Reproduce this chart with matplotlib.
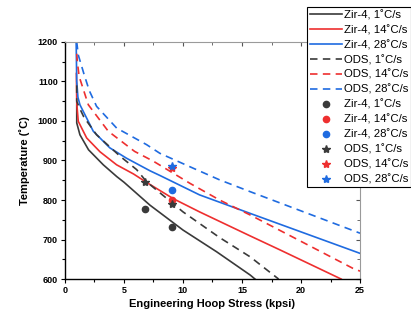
import matplotlib
matplotlib.use("Agg")
import matplotlib.pyplot as plt
from matplotlib.ticker import MultipleLocator

# --- data ---

zir1_s = [1.0, 1.0, 1.27, 2.0, 3.25, 4.4, 5.0, 7.2, 10.0, 12.85, 15.7, 16.1]
zir1_t = [1040, 995, 965, 927, 889, 859, 845, 787, 724, 669, 610, 600]

zir14_s = [0.97, 1.0, 1.13, 1.84, 2.97, 4.38, 5.8, 7.0, 9.2, 11.4, 15.7, 18.2, 23.4]
zir14_t = [1120, 1045, 999, 957, 922, 889, 866, 843, 803, 770, 709, 674, 600]

zir28_s = [0.95, 1.0, 1.1, 1.27, 2.4, 3.8, 5.2, 7.2, 8.05, 11.4, 15.7, 25.0]
zir28_t = [1200, 1100, 1060, 1041, 974, 932, 906, 874, 862, 813, 766, 665]

ods1_s = [1.0, 1.0, 1.2, 1.6, 2.68, 4.66, 6.07, 6.92, 10.0, 13.1, 15.7, 18.1]
ods1_t = [1090, 1050, 1035, 1010, 965, 911, 877, 846, 770, 705, 656, 600]

ods14_s = [1.0, 1.05, 1.2, 1.98, 3.67, 5.9, 7.5, 10.6, 13.1, 15.7, 16.8, 24.4, 25.0]
ods14_t = [1170, 1150, 1113, 1041, 974, 923, 898, 842, 800, 762, 745, 627, 620]

ods28_s = [1.0, 1.13, 1.61, 2.06, 2.68, 4.38, 6.92, 8.05, 10.9, 13.1, 15.7, 25.0]
ods28_t = [1200, 1167, 1119, 1077, 1037, 982, 940, 918, 880, 851, 821, 716]

# measured points
zir1_pts_s = [6.8, 9.1]
zir1_pts_t = [776, 732]
zir14_pts_s = [9.1]
zir14_pts_t = [800]
zir28_pts_s = [9.1]
zir28_pts_t = [825]
ods1_pts_s = [6.8, 9.1]
ods1_pts_t = [846, 790]
ods14_pts_s = [9.1]
ods14_pts_t = [882]
ods28_pts_s = [9.1]
ods28_pts_t = [885]

black = "#3a3a3a"
red = "#ee2f2f"
blue = "#1f6be0"

plt.rcParams["font.family"] = ["Liberation Sans", "DejaVu Sans"]

fig = plt.figure(figsize=(4.11, 3.2), dpi=100)
ax = fig.add_axes([0.158, 0.128, 0.718, 0.741])

lw = 1.2
dash = (4.5, 3.2)
ax.plot(zir1_s, zir1_t, color=black, lw=lw, label="Zir-4, 1\u02daC/s")
ax.plot(zir14_s, zir14_t, color=red, lw=lw, label="Zir-4, 14\u02daC/s")
ax.plot(zir28_s, zir28_t, color=blue, lw=lw, label="Zir-4, 28\u02daC/s")
ax.plot(ods1_s, ods1_t, color=black, lw=lw, dashes=dash, label="ODS, 1\u02daC/s")
ax.plot(ods14_s, ods14_t, color=red, lw=lw, dashes=dash, label="ODS, 14\u02daC/s")
ax.plot(ods28_s, ods28_t, color=blue, lw=lw, dashes=dash, label="ODS, 28\u02daC/s")

ms_dot = 4.5
ms_star = 6
ax.plot(zir1_pts_s, zir1_pts_t, "o", color=black, ms=ms_dot, label="Zir-4, 1\u02daC/s")
ax.plot(zir14_pts_s, zir14_pts_t, "o", color=red, ms=ms_dot, label="Zir-4, 14\u02daC/s")
ax.plot(zir28_pts_s, zir28_pts_t, "o", color=blue, ms=ms_dot, label="Zir-4, 28\u02daC/s")
ax.plot(ods1_pts_s, ods1_pts_t, "*", color=black, ms=ms_star, label="ODS, 1\u02daC/s")
ax.plot(ods14_pts_s, ods14_pts_t, "*", color=red, ms=ms_star, label="ODS, 14\u02daC/s")
ax.plot(ods28_pts_s, ods28_pts_t, "*", color=blue, ms=ms_star, label="ODS, 28\u02daC/s")

ax.set_xlim(0, 25)
ax.set_ylim(600, 1200)
ax.xaxis.set_major_locator(MultipleLocator(5))
ax.xaxis.set_minor_locator(MultipleLocator(2.5))
ax.yaxis.set_major_locator(MultipleLocator(100))
ax.yaxis.set_minor_locator(MultipleLocator(50))

ax.tick_params(which="both", direction="out", width=0.8, labelsize=6.5, pad=2)
ax.tick_params(which="major", length=3)
ax.tick_params(which="minor", length=2)
for lab in ax.get_xticklabels() + ax.get_yticklabels():
    lab.set_fontweight("bold")

for side in ["top", "right"]:
    ax.spines[side].set_color("#9a9a9a")
for side in ["left", "bottom"]:
    ax.spines[side].set_linewidth(1.0)

# inward ticks on the top and right edges
top = ax.secondary_xaxis("top")
top.xaxis.set_major_locator(MultipleLocator(5))
top.xaxis.set_minor_locator(MultipleLocator(2.5))
top.tick_params(which="both", direction="in", labeltop=False, color="#555555")
top.tick_params(which="major", length=3)
top.tick_params(which="minor", length=2)
top.spines["top"].set_visible(False)
right = ax.secondary_yaxis("right")
right.yaxis.set_major_locator(MultipleLocator(100))
right.yaxis.set_minor_locator(MultipleLocator(50))
right.tick_params(which="both", direction="in", labelright=False, color="#555555")
right.tick_params(which="major", length=3)
right.tick_params(which="minor", length=2)
right.spines["right"].set_visible(False)

ax.set_xlabel("Engineering Hoop Stress (kpsi)", fontsize=8, fontweight="bold", labelpad=3)
ax.set_ylabel("Temperature (\u02daC)", fontsize=8, fontweight="bold", labelpad=6)

leg = fig.legend(loc="upper right", bbox_to_anchor=(1.0, 0.978), fontsize=8.2,
                 frameon=True, fancybox=False, edgecolor="black", framealpha=1,
                 handlelength=2.8, handletextpad=0.2, labelspacing=0.4,
                 borderpad=0.25, borderaxespad=0)
leg.get_frame().set_linewidth(0.8)

fig.savefig("out.png", dpi=100)
